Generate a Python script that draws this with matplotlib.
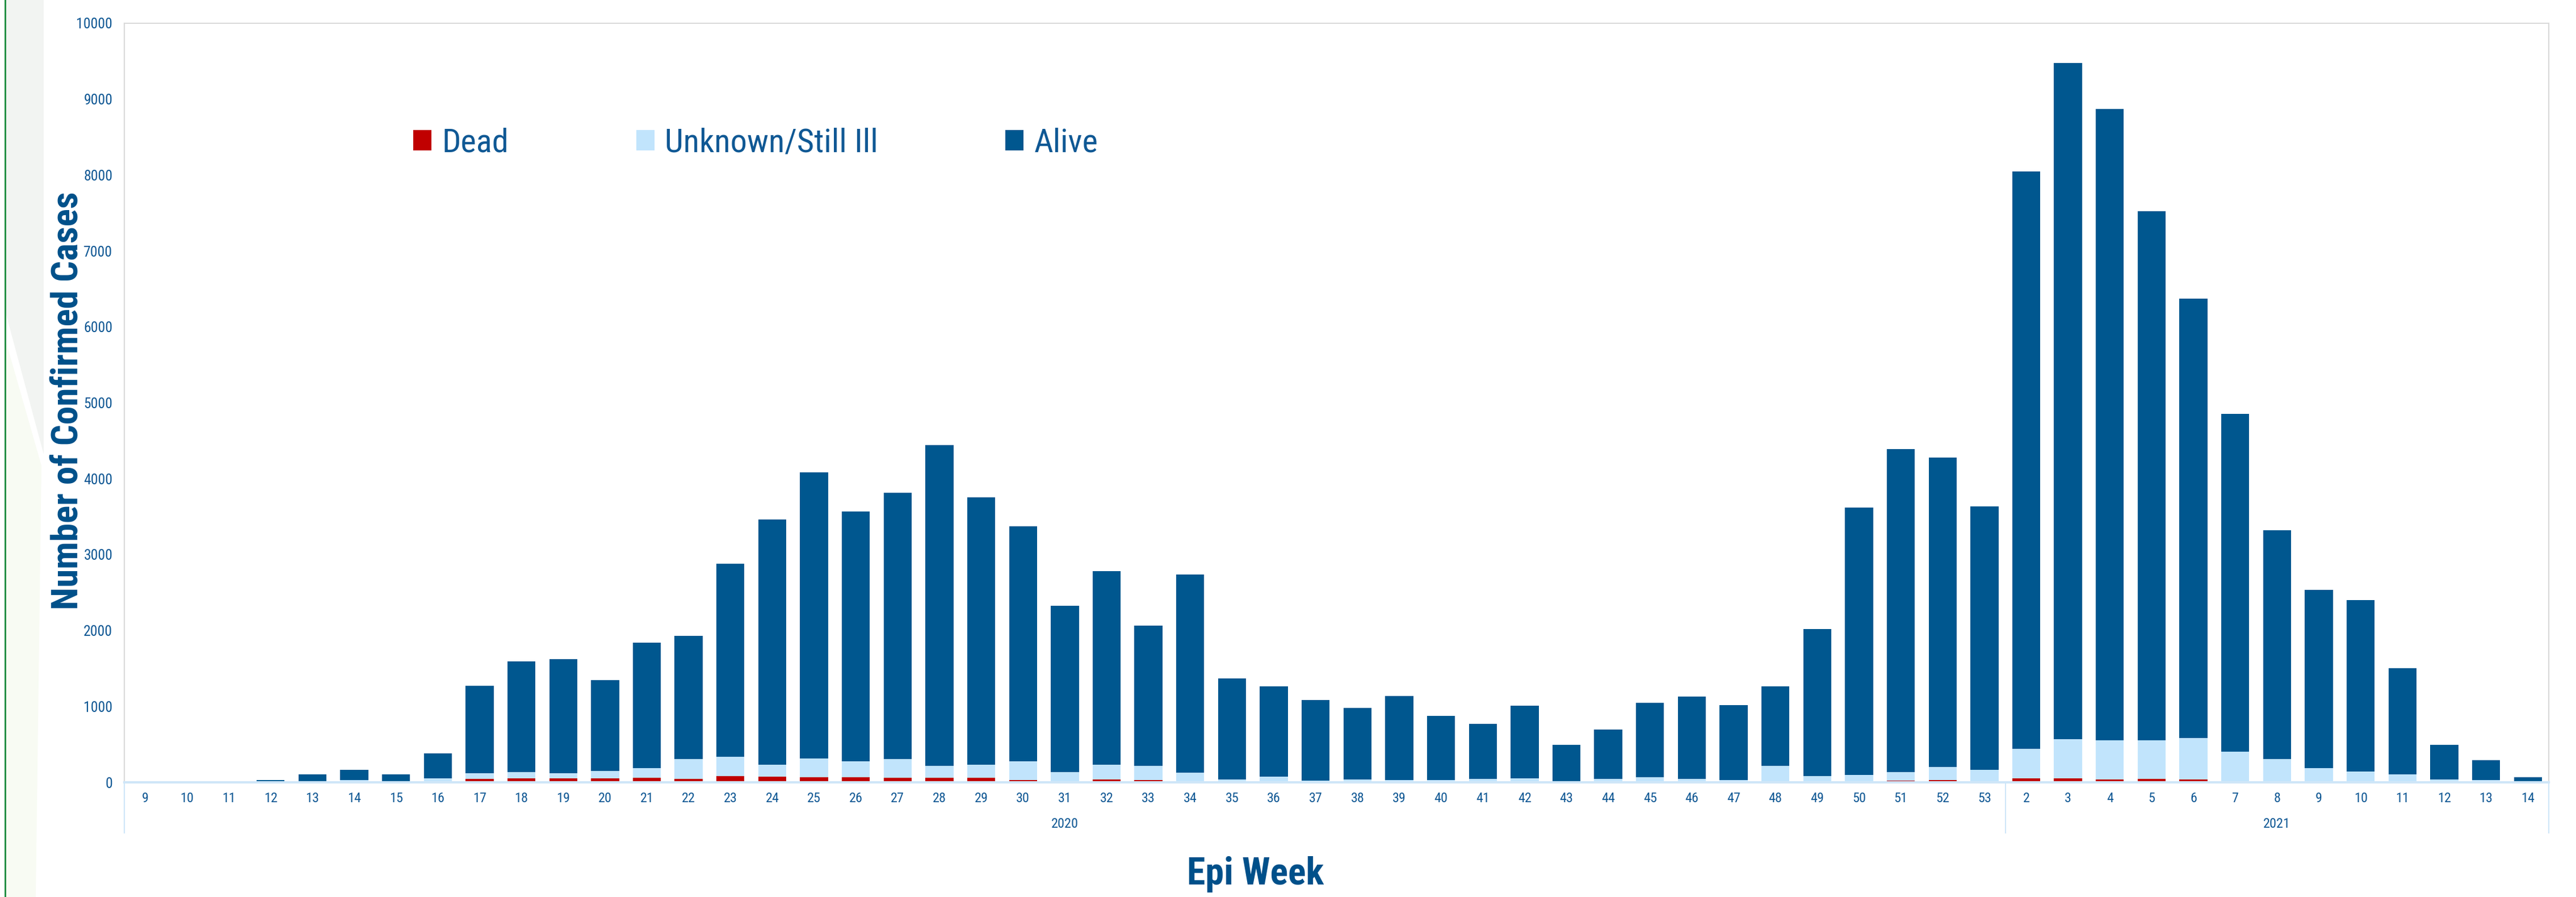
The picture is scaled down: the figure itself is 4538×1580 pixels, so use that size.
import numpy as np
import matplotlib
matplotlib.use("Agg")
import matplotlib.pyplot as plt
from matplotlib import font_manager
from matplotlib.patches import Polygon
import matplotlib.transforms as mtransforms

# epi weeks: 2020 weeks 9-53, 2021 weeks 2-14
weeks_2020 = list(range(9, 54))
weeks_2021 = list(range(2, 15))
week_labels = [str(w) for w in weeks_2020 + weeks_2021]
years = ["2020", "2021"]

dead = [0, 0, 0, 0, 0, 0, 0, 15, 42, 52, 55, 55, 58, 42, 85, 75, 70, 65, 62, 57,
        57, 30, 18, 40, 27, 12, 0, 6, 0, 0, 0, 0, 0, 0, 0, 0, 3, 0, 0, 0,
        0, 12, 25, 32, 10,
        55, 55, 35, 47, 35, 17, 17, 10, 10, 3, 0, 0, 0]

unknown = [2, 5, 0, 5, 10, 30, 15, 35, 78, 80, 65, 95, 130, 262, 255, 155, 242, 212, 245, 160,
           175, 247, 115, 192, 190, 112, 40, 72, 25, 40, 32, 27, 42, 50, 17, 42, 62, 47, 27, 217,
           80, 82, 110, 170, 155,
           389, 511, 521, 506, 548, 389, 290, 174, 132, 102, 37, 30, 5]

alive = [1, 3, 2, 27, 95, 135, 90, 332, 1150, 1460, 1502, 1195, 1650, 1628, 2537, 3230, 3775, 3290, 3505, 4226,
         3522, 3095, 2192, 2547, 1848, 2614, 1330, 1185, 1058, 937, 1104, 849, 727, 959, 478, 654, 984, 1082, 989, 1046,
         1937, 3526, 4253, 4073, 3468,
         7602, 8908, 8311, 6972, 5787, 4449, 3012, 2354, 2256, 1398, 458, 258, 63]

RED = "#c00000"
LIGHT = "#c1e4fc"
NAVY = "#00578f"
TXT = "#0f5894"

# condensed face if one is installed
names = {f.name for f in font_manager.fontManager.ttflist}
face = "Liberation Sans"
for cand in ["Liberation Sans Narrow", "Roboto Condensed", "Arial Narrow"]:
    if cand in names:
        face = cand
        break
plt.rcParams["font.family"] = [face, "DejaVu Sans"]

W, H = 4538, 1580
fig = plt.figure(figsize=(W / 100, H / 100), dpi=100)

# slide decoration at the left edge
def px(x, y):
    return (x / W, 1 - y / H)

fig.patches.append(Polygon([px(10, 0), px(77, 0), px(77, 800), px(10, 551)],
                           closed=True, transform=fig.transFigure,
                           facecolor="#f2f4f2", edgecolor="none", zorder=0))
fig.patches.append(Polygon([px(10, 600), px(73, 820), px(63, 1580), px(10, 1580)],
                           closed=True, transform=fig.transFigure,
                           facecolor="#f8fbf3", edgecolor="none", zorder=0))
fig.add_artist(plt.Line2D([9 / W, 9 / W], [0, 1], transform=fig.transFigure,
                          color="#1a8a3c", lw=2))

left, right, top, bottom = 219 / W, 4490 / W, 1 - 41 / H, 1 - 1378 / H
ax = fig.add_axes([left, bottom, right - left, top - bottom])

x = np.arange(len(week_labels))
d = np.array(dead)
u = np.array(unknown)
a = np.array(alive)
bw = 0.67
b1 = ax.bar(x, d, width=bw, color=RED, linewidth=0, label="Dead")
b2 = ax.bar(x, u, width=bw, bottom=d, color=LIGHT, linewidth=0, label="Unknown/Still Ill")
b3 = ax.bar(x, a, width=bw, bottom=d + u, color=NAVY, linewidth=0, label="Alive")

ax.set_xlim(-0.5, len(x) - 0.5)
ax.set_ylim(0, 10000)
ax.set_yticks(np.arange(0, 10001, 1000))
ax.tick_params(axis="y", length=0, pad=15, labelsize=18.5, labelcolor=TXT)
ax.set_xticks(x)
ax.set_xticklabels(week_labels)
ax.tick_params(axis="x", length=0, pad=12, labelsize=17.5, labelcolor=TXT)

for side in ["left", "top", "right"]:
    ax.spines[side].set_color("#d9d9d9")
    ax.spines[side].set_linewidth(1.5)
ax.spines["bottom"].set_color("#cfe6f8")
ax.spines["bottom"].set_linewidth(3)

# year group separators and labels below the week ticks
trans = mtransforms.blended_transform_factory(ax.transData, ax.transAxes)
sep_bottom = (1378 - 1467) / 1337
n20 = len(weeks_2020)
for xs in [-0.5, n20 - 0.5, len(x) - 0.5]:
    ax.plot([xs, xs], [0, sep_bottom], transform=trans, color="#cfe6f8",
            lw=1.5, clip_on=False)
year_y = (1378 - 1452) / 1337
ax.text((n20 - 1) / 2, year_y, years[0], transform=trans, ha="center",
        va="center", fontsize=17.5, color=TXT)
ax.text(n20 + (len(weeks_2021) - 1) / 2, year_y, years[1], transform=trans,
        ha="center", va="center", fontsize=17.5, color=TXT)

fig.text(2212 / W, 1 - 1540 / H, "Epi Week", ha="center", va="center",
         fontsize=47.5, fontweight="bold", color="#00508a")
fig.text(119 / W, 1 - 706 / H, "Number of Confirmed Cases", rotation=90,
         ha="center", va="center", fontsize=47, fontweight="bold", color="#00508a")

fs = 42
leg = fig.legend(handles=[b1, b2, b3], loc="center left",
                 bbox_to_anchor=(728 / W, 1 - 252 / H), ncol=3, frameon=False,
                 fontsize=fs, handlelength=0.55, handleheight=0.56,
                 handletextpad=0.32, columnspacing=3.84, borderpad=0,
                 borderaxespad=0)
for t in leg.get_texts():
    t.set_color(TXT)

fig.savefig("out.png", dpi=100, facecolor="white")
